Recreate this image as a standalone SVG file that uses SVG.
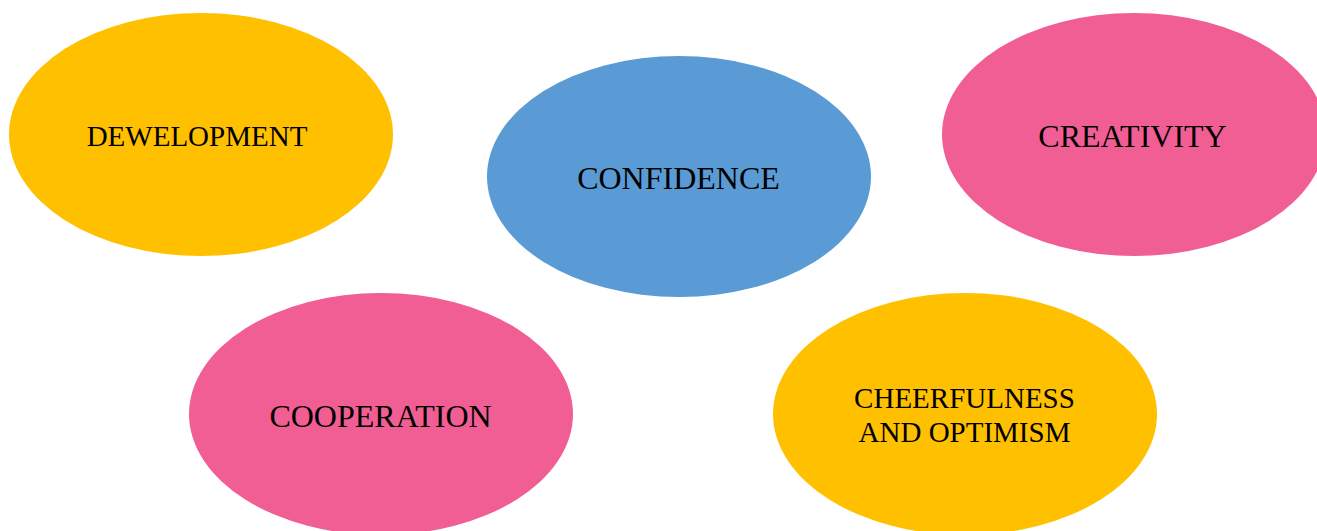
<svg xmlns="http://www.w3.org/2000/svg" width="1317" height="531" viewBox="0 0 1317 531">
<style>
.yellow{fill:#FFC000}
.blue{fill:#5B9BD5}
.pink{fill:#F15E94}
text{font-family:"Liberation Serif","Times New Roman",serif;fill:#000;text-anchor:middle}
.l{font-size:32px}
.m{font-size:29px}
</style>
<rect width="1317" height="531" fill="#FFFFFF"/>
<g id="connectors"></g>
<g id="node-development">
<ellipse class="yellow" cx="201" cy="134.5" rx="192" ry="121.5"/>
<text class="m" x="197" y="146">DEWELOPMENT</text>
</g>
<g id="node-confidence">
<ellipse class="blue" cx="679" cy="176.5" rx="192" ry="120.5"/>
<text class="l" x="678.5" y="189">CONFIDENCE</text>
</g>
<g id="node-creativity">
<ellipse class="pink" cx="1134" cy="134.5" rx="192" ry="121.5"/>
<text class="l" x="1132.5" y="147">CREATIVITY</text>
</g>
<g id="node-cooperation">
<ellipse class="pink" cx="381" cy="414" rx="192" ry="121"/>
<text class="l" x="380.5" y="427">COOPERATION</text>
</g>
<g id="node-cheerfulness">
<ellipse class="yellow" cx="965" cy="414" rx="192" ry="121"/>
<text class="m" x="964.5" y="408">CHEERFULNESS</text>
<text class="m" x="964.5" y="442">AND OPTIMISM</text>
</g>
</svg>
